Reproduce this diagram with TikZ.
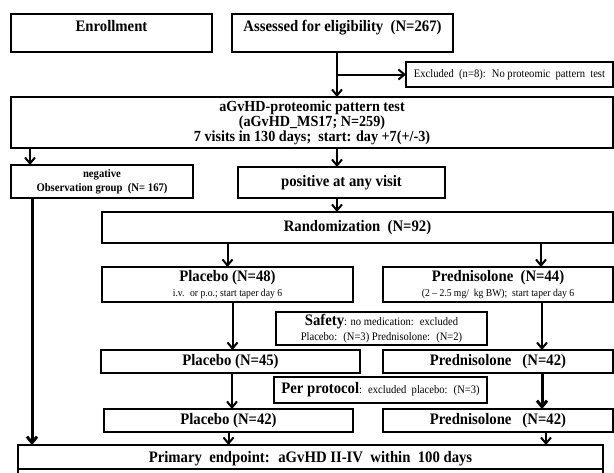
\documentclass[tikz,border=0pt]{standalone}
\usepackage{fontspec}
\setmainfont{Liberation Serif}[FakeStretch=0.92]
\usetikzlibrary{arrows.meta,positioning}
\newcommand{\ttlfont}{\fontsize{16}{18}\selectfont\bfseries}
\newcommand{\tstfont}{\fontsize{15.4}{15}\selectfont\bfseries}
\newcommand{\ngfont}{\fontsize{11.6}{14}\selectfont\bfseries}
\newcommand{\notefont}{\fontsize{11.5}{15}\selectfont\mdseries}
\newcommand{\subnote}{\fontsize{10.5}{13}\selectfont\mdseries}

\begin{document}
\begin{tikzpicture}[
    x=1pt, y=-1pt,
    every node/.style={inner sep=0pt, outer sep=0pt},
    flowbox/.style={
      draw=black,
      line width=2pt,
      anchor=north west,
      align=center,
      font=\ttlfont
    },
    topbox/.style={
      flowbox,
      minimum height=38pt,
      text height=11pt,
      text depth=15pt
    },
    notebox/.style={
      flowbox,
      font=\notefont
    },
    arrow/.style={-{Straight Barb[length=6pt,width=10pt]}, line width=2pt},
    heavy/.style={arrow, line width=3pt}
  ]
    \useasboundingbox (0,0) rectangle (614,472);
    \clip (0,0) rectangle (614,472);

    \node[topbox, minimum width=201pt] at (11,14) (enroll) {Enrollment};
    \node[topbox, minimum width=221pt, right=20pt of enroll.north east, anchor=north west]
      (assessed) {Assessed for eligibility \ (N=267)};
    \node[notebox, minimum width=207pt, minimum height=25pt] at (406,62)
      (excl) {Excluded \ (n=8): \ No proteomic \ pattern \ test};

    \node[flowbox, font=\tstfont, minimum width=602pt, minimum height=51pt] at (11,97)
      (test) {aGvHD-proteomic pattern test\\(aGvHD\_MS17; N=259)\\7 visits in 130 days; \ start: day +7(+/-3)};

    \node[flowbox, font=\ngfont, minimum width=182pt, minimum height=33pt] at (11,165)
      (neg) {negative\\Observation group \ (N= 167)};
    \node[flowbox, minimum width=207pt, minimum height=31pt] at (238,167)
      (pos) {positive at any visit};

    \node[flowbox, minimum width=511pt, minimum height=31pt] at (102,212)
      (rand) {Randomization \ (N=92)};

    \node[flowbox, minimum width=251pt, minimum height=35pt] at (102,267)
      (plac48) {Placebo (N=48)\\[-3pt]{\subnote i.v. \ or p.o.; start taper day 6}};
    \node[flowbox, minimum width=230pt, minimum height=35pt] at (383,267)
      (pred44) {Prednisolone \ (N=44)\\[-3pt]{\subnote (2 – 2.5 mg/ \ kg BW); \ start taper day 6}};

    \node[notebox, minimum width=211pt, minimum height=33pt] at (276,312)
      (safety) {{\ttlfont Safety}: no medication: \ excluded\\Placebo: \ (N=3) Prednisolone: \ (N=2)};

    \node[flowbox, minimum width=259pt, minimum height=23pt] at (101,350)
      (plac45) {Placebo (N=45)};
    \node[flowbox, minimum width=230pt, minimum height=23pt] at (383,350)
      (pred42a) {Prednisolone \ \ (N=42)};

    \node[notebox, minimum width=213pt, minimum height=26pt] at (274,377)
      (perprot) {{\ttlfont Per protocol}: \ excluded \ placebo: \ (N=3)};

    \node[flowbox, minimum width=249pt, minimum height=23pt] at (104,409)
      (plac42) {Placebo (N=42)};
    \node[flowbox, minimum width=230pt, minimum height=23pt] at (383,409)
      (pred42b) {Prednisolone \ \ (N=42)};

    \node[flowbox, minimum width=585pt, minimum height=24pt, text depth=0pt] at (18,445)
      (primary) {Primary \ endpoint: \ aGvHD II-IV \ within \ 100 days};
    \draw[line width=2pt] (primary.south west) -- ++(0,20) (primary.south east) -- ++(0,20);

    \coordinate (trunk) at ([xshift=-5.5pt]assessed.south);

    \draw[arrow] (trunk) -- (trunk |- test.north);
    \draw[arrow] (trunk |- excl.west) -- (excl.west);
    \draw[arrow] ([xshift=19pt]test.south west) -- ([xshift=19pt]neg.north west);
    \draw[arrow] (test.south -| trunk) -- (pos.north -| trunk);
    \draw[arrow] (pos.south -| trunk) -- (rand.north -| trunk);
    \draw[arrow] (plac48.north |- rand.south) -- (plac48.north);
    \draw[arrow] ([xshift=43pt]pred44.north |- rand.south) -- ([xshift=43pt]pred44.north);
    \draw[arrow] ([xshift=5pt]plac48.south) -- ([xshift=5pt]plac48.south |- plac45.north);
    \draw[arrow] ([xshift=44pt]pred44.south) -- ([xshift=44pt]pred44.south |- pred42a.north);
    \draw[arrow] ([xshift=1.5pt]plac45.south) -- ([xshift=1.5pt]plac45.south |- plac42.north);
    \draw[heavy] ([xshift=44pt]pred42a.south) -- ([xshift=44pt]pred42a.south |- pred42b.north);
    \draw[heavy] ([xshift=21pt]neg.south west) -- ([xshift=21pt]neg.south west |- primary.north);
    \draw[arrow] (plac42.south) -- (plac42.south |- primary.north);
    \draw[arrow] ([xshift=48pt]pred42b.south) -- ([xshift=48pt]pred42b.south |- primary.north);
  \end{tikzpicture}
\end{document}
